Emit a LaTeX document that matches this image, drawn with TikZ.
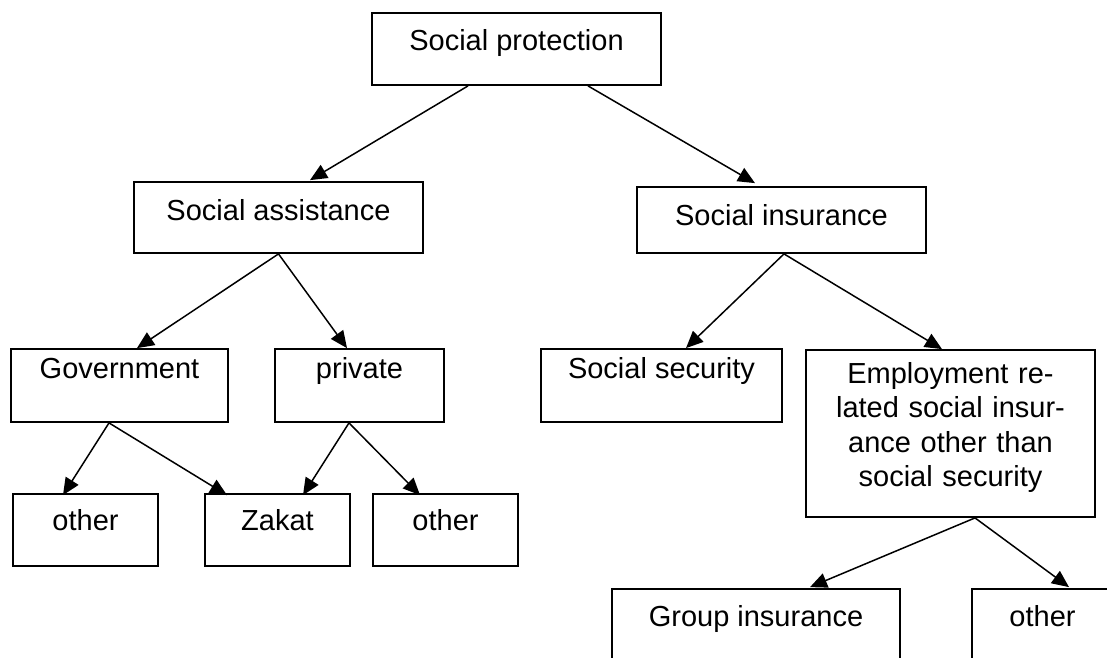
\documentclass[tikz,border=0pt]{standalone}
\usepackage{fontspec}
\setmainfont{Liberation Sans}
\usetikzlibrary{arrows.meta}

\begin{document}
\begin{tikzpicture}[x=1pt,y=-1pt,
  box/.style={draw, line width=1.8pt, inner sep=0pt, anchor=base,
    font=\fontsize{29}{34.5}\selectfont},
  link/.style={-{Triangle[length=17pt,width=15pt]}, line width=1.5pt}]
  \useasboundingbox (0,0) rectangle (1107,657);
  \clip (0,0) rectangle (1107,657);

  % top level
  \node[box, minimum width=289pt, text height=37pt, text depth=35pt] (sp) at (516.5,50) {Social protection};

  % second level
  \node[box, minimum width=289pt, text height=38pt, text depth=33pt] (sa) at (278.5,220) {Social assistance};
  \node[box, minimum width=289pt, text height=38pt, text depth=28pt] (si) at (781.5,225) {Social insurance};

  % third level
  \node[box, minimum width=217pt, text height=29pt, text depth=44pt] (gov) at (119.5,378) {Government};
  \node[box, minimum width=169pt, text height=29pt, text depth=44pt] (priv) at (359.5,378) {private};
  \node[box, minimum width=241pt, text height=29pt, text depth=44pt] (ss) at (661.5,378) {Social security};
  \node[box, text width=289pt, align=center, text height=33pt, text depth=134pt] (emp) at (950.5,383)
    {Employment re-\\lated social insur-\\ance other than\\social security};

  % fourth level
  \node[box, minimum width=145pt, text height=36pt, text depth=36pt] (o1) at (85.5,530) {other};
  \node[box, minimum width=145pt, text height=36pt, text depth=36pt] (zk) at (277.5,530) {Zakat};
  \node[box, minimum width=145pt, text height=36pt, text depth=36pt] (o2) at (445.5,530) {other};
  \node[box, minimum width=288pt, text height=37pt, text depth=35pt] (gi) at (756,626) {Group insurance};
  \node[box, minimum width=141pt, text height=37pt, text depth=35pt] (o3) at (1042.5,626) {other};

  % connectors
  \draw[link] ([xshift=-48.5pt]sp.south) -- ([xshift=31.5pt,yshift=1pt]sa.north);
  \draw[link] ([xshift=71.5pt]sp.south) -- ([xshift=-26.5pt,yshift=3pt]si.north);
  \draw[link] (sa.south) -- ([xshift=17.5pt]gov.north);
  \draw[link] (sa.south) -- ([xshift=-12.5pt]priv.north);
  \draw[link] ([xshift=2.5pt]si.south) -- ([xshift=24.5pt]ss.north);
  \draw[link] ([xshift=2.5pt]si.south) -- ([xshift=-8.5pt]emp.north);
  \draw[link] ([xshift=-10.5pt]gov.south) -- ([xshift=-22.5pt,yshift=-2pt]o1.north);
  \draw[link] ([xshift=-10.5pt]gov.south) -- ([xshift=-50.5pt,yshift=-2pt]zk.north);
  \draw[link] ([xshift=-10.5pt]priv.south) -- ([xshift=25.5pt,yshift=-2pt]zk.north);
  \draw[link] ([xshift=-10.5pt]priv.south) -- ([xshift=-25.5pt,yshift=-2pt]o2.north);
  \draw[link] ([xshift=24.5pt]emp.south) -- ([xshift=54pt,yshift=1pt]gi.north);
  \draw[link] ([xshift=24.5pt]emp.south) -- ([xshift=26.5pt,yshift=1pt]o3.north);
\end{tikzpicture}
\end{document}
